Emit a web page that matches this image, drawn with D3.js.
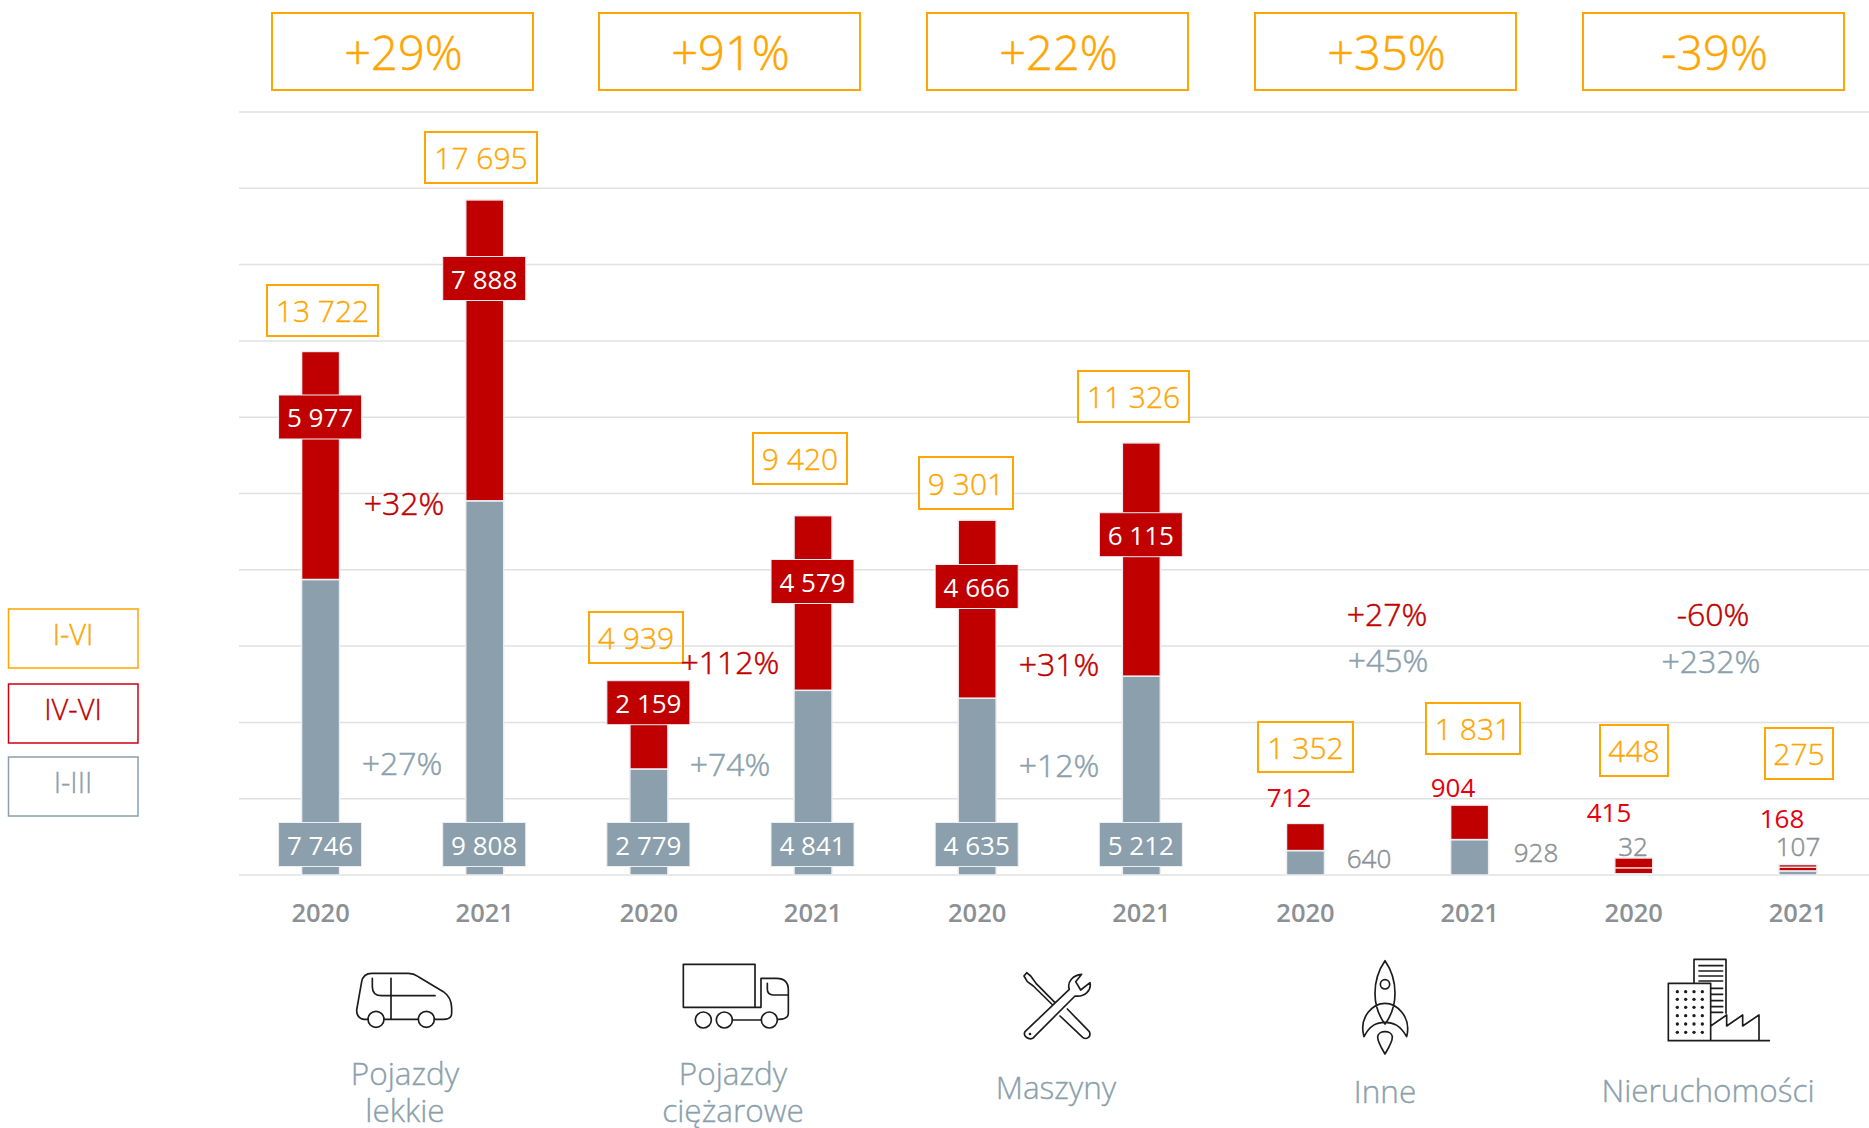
<!doctype html>
<html lang="pl">
<head>
  <meta charset="utf-8">
  <title>Pojazdy I-VI 2020/2021</title>
  <script src="https://d3js.org/d3.v7.min.js"></script>
  <style>
    body { margin: 0; background: #fff; }
    svg { display: block; }
    text { font-family: "Open Sans", sans-serif; font-weight: 300; text-anchor: middle; }
    .tick text { font-weight: 600; fill: #8b9095; font-size: 25.5px; }
    .grid line { stroke: #dfe0e2; stroke-width: 1.5; }
    .icon * { fill: none; stroke: #1c1c1c; stroke-width: 5; stroke-linejoin: round; stroke-linecap: round; }
    .icon .dot { fill: #1c1c1c; stroke: none; }
  </style>
</head>
<body>
  <div id="container"></div>

  <script>
    // data
    var years = ["2020", "2021"];
    var categories = [["Pojazdy", "lekkie"], ["Pojazdy", "ciężarowe"], ["Maszyny"], ["Inne"], ["Nieruchomości"]];
    var q1Values = [7746, 9808, 2779, 4841, 4635, 5212, 640, 928, 32, 107];   // I-III
    var q2Values = [5977, 7888, 2159, 4579, 4666, 6115, 712, 904, 415, 168];  // IV-VI
    var totals = [13722, 17695, 4939, 9420, 9301, 11326, 1352, 1831, 448, 275]; // I-VI
    var totalChange = ["+29%", "+91%", "+22%", "+35%", "-39%"];
    var q2Change = ["+32%", "+112%", "+31%", "+27%", "-60%"];
    var q1Change = ["+27%", "+74%", "+12%", "+45%", "+232%"];
    var legendLabels = ["I-VI", "IV-VI", "I-III"];
    var gridTicks = d3.range(0, 20001, 2000);

    var orange = "#fea500", red = "#c00000", brightRed = "#e6000f", blue = "#8b9fac", grey = "#8b9095";

    var width = 1869, height = 1128;
    var svg = d3.select("#container").append("svg").attr("width", width).attr("height", height);

    var n = totals.length;
    var x = d3.scaleBand().domain(d3.range(n)).range([238.5, 238.5 + 164.15 * n]);
    var y = d3.scaleLinear().domain([0, 20000]).range([875, 112]);
    var cx = function(i) { return x(i) + x.bandwidth() / 2; };
    var fmt = d3.formatLocale({ decimal: ",", thousands: " ", grouping: [3], currency: ["", ""] }).format(",");

    // thin text gets a hairline of its own colour, the original font is a bit denser
    function label(px, py, size, color, t, extra) {
      return svg.append("text").attr("x", px).attr("y", py).attr("dy", ".36em")
        .attr("font-size", size).attr("fill", color).attr("stroke", color).attr("stroke-width", extra || 0.35)
        .text(t);
    }

    // gridlines
    svg.append("g").attr("class", "grid").attr("transform", "translate(239,-0.5)")
      .call(d3.axisRight(y).tickValues(gridTicks).tickSize(width - 239).tickFormat(""))
      .call(function(g) { g.select(".domain").remove(); });

    // year labels
    svg.append("g").attr("transform", "translate(0,913)")
      .call(d3.axisBottom(x).tickSize(0).tickFormat(function(i) { return years[i % 2]; }))
      .call(function(g) { g.select(".domain").remove(); })
      .selectAll("text").attr("y", 0).attr("dy", ".35em");

    // bars
    var barW = 38;
    var bars = svg.append("g").attr("stroke", "#eceef2").attr("stroke-width", 1.5);
    bars.selectAll("rect.q1").data(q1Values).enter().append("rect").attr("class", "q1")
      .attr("x", function(d, i) { return cx(i) - barW / 2; })
      .attr("width", barW)
      .attr("y", function(d) { return y(d); })
      .attr("height", function(d) { return y(0) - y(d); })
      .attr("fill", blue);
    bars.selectAll("rect.q2").data(q2Values).enter().append("rect").attr("class", "q2")
      .attr("x", function(d, i) { return cx(i) - barW / 2; })
      .attr("width", barW)
      .attr("y", function(d, i) { return y(q1Values[i] + d); })
      .attr("height", function(d) { return y(0) - y(d); })
      .attr("fill", red);
    // hairlines inside the two thinnest bars, as in the original
    [[8, 205], [9, 222]].forEach(function(h) {
      svg.append("rect").attr("x", cx(h[0]) - barW / 2).attr("width", barW)
        .attr("y", y(h[1])).attr("height", 1.5).attr("fill", "#f3dcdc");
    });

    // filled value tags sitting on the bars
    var q2TagY = [417, 278.5, 702.7, 581.5, 586.5, 534.7];
    var tagW = 83, tagH = 44;
    function tag(i, yc, fill, value) {
      svg.append("rect").attr("x", cx(i) - tagW / 2 - 0.5).attr("y", yc - tagH / 2)
        .attr("width", tagW).attr("height", tagH).attr("fill", fill).attr("stroke", "#eceef2").attr("stroke-width", 1);
      svg.append("text").attr("x", cx(i) - 0.5).attr("y", yc + 1).attr("dy", ".36em")
        .attr("font-size", 26).attr("fill", "#fff").style("font-weight", 400).text(fmt(value));
    }
    q2TagY.forEach(function(yc, i) { tag(i, yc, red, q2Values[i]); });
    q2TagY.forEach(function(yc, i) { tag(i, 844.5, blue, q1Values[i]); });

    // outlined totals: x0, x1, y0, y1 of the boxes
    var totalBoxes = [[267, 378, 285, 336], [425, 537, 132, 183], [589, 683, 612, 663], [753, 847, 433, 484],
      [919, 1013, 457, 509], [1078, 1189, 371, 422], [1258, 1353, 722, 772], [1426, 1520, 703, 754],
      [1600, 1668, 725, 776], [1765, 1833, 728, 779]];
    totalBoxes.forEach(function(b, i) {
      svg.append("rect").attr("x", b[0]).attr("y", b[2]).attr("width", b[1] - b[0]).attr("height", b[3] - b[2])
        .attr("fill", i == 2 ? "none" : "#fff").attr("stroke", orange).attr("stroke-width", 2);
      label((b[0] + b[1]) / 2, (b[2] + b[3]) / 2 + 1, 30, orange, fmt(totals[i]));
    });

    // group change boxes on top
    var topBoxX = [272, 599, 927, 1255, 1583];
    topBoxX.forEach(function(bx, i) {
      svg.append("rect").attr("x", bx).attr("y", 13).attr("width", 261).attr("height", 77)
        .attr("fill", "none").attr("stroke", orange).attr("stroke-width", 2);
      label(bx + 131.5, 53, 47, orange, totalChange[i], 0.5);
    });

    // quarter change labels
    var q2ChangePos = [[404, 503], [730, 662], [1059, 664], [1387, 614], [1713, 614]];
    var q1ChangePos = [[402, 763], [730, 764], [1059, 765], [1388, 660], [1711, 661]];
    q2ChangePos.forEach(function(p, i) { label(p[0], p[1], 32, red, q2Change[i], 0.5); });
    q1ChangePos.forEach(function(p, i) { label(p[0], p[1], 32, blue, q1Change[i], 0.5); });

    // plain value labels of the small groups (indices 6-9)
    var q2LabelPos = [[1289, 798], [1453, 788], [1609, 813], [1782, 819]];
    var q1LabelPos = [[1369, 859], [1536, 853], [1633, 847], [1798, 847]];
    q2LabelPos.forEach(function(p, i) {
      svg.append("text").attr("x", p[0]).attr("y", p[1]).attr("dy", ".36em")
        .attr("font-size", 26).attr("fill", brightRed).style("font-weight", 400).text(fmt(q2Values[i + 6]));
    });
    q1LabelPos.forEach(function(p, i) { label(p[0], p[1], 26, grey, fmt(q1Values[i + 6]), 0.5); });

    // legend
    var legendColors = [orange, "#d00010", blue], legendText = [orange, red, blue], legendY = [609, 684, 757];
    legendLabels.forEach(function(t, i) {
      svg.append("rect").attr("x", 8.5).attr("y", legendY[i]).attr("width", 129.5).attr("height", 59)
        .attr("fill", "none").attr("stroke", legendColors[i]).attr("stroke-width", 1.5);
      label(73, legendY[i] + 26, 29, legendText[i], t);
    });

    // category names
    var catPos = [[405, 1074], [733, 1074], [1056, 1088], [1385, 1092], [1708, 1091]];
    categories.forEach(function(lines, i) {
      lines.forEach(function(t, j) {
        label(catPos[i][0], catPos[i][1] + j * 36.5, 31.5, blue, t);
      });
    });

    // icons, drawn in 3x units
    function icon(tx, ty) {
      return svg.append("g").attr("class", "icon").attr("transform", "translate(" + tx + "," + ty + ") scale(" + (1 / 3) + ")");
    }
    function circles(g, list, r) {
      list.forEach(function(c) { g.append("circle").attr("cx", c[0]).attr("cy", c[1]).attr("r", r); });
    }

    var van = icon(340, 950);
    van.append("path").attr("d", "M85,208 L72,208 Q50,205 50,180 L65,95 Q70,70 95,70 L205,70 Q220,70 235,80 L310,125 Q335,142 335,175 L335,190 Q335,208 310,208 L283,208 M133,208 L235,208 M153,85 L153,208 M97,85 L97,110 Q97,137 125,137 L285,137");
    circles(van, [[108, 208], [259, 208]], 24);

    var truck = icon(670, 950);
    truck.append("path").attr("d", "M40,43 L255,43 L255,172 L40,172 Z M255,172 L273,172 L273,85 L320,85 Q355,85 355,120 L355,190 Q355,208 325,208 M292,100 L292,118 Q292,135 310,135 L355,135 M187,210 L274,210");
    circles(truck, [[100, 210], [163, 210], [298, 210]], 24);

    var tools = icon(1010, 960);
    tools.append("path").attr("d", "M45,215 L178,88 C170,65 190,45 215,43 L197,65 L212,90 L240,68 C245,90 225,112 195,108 L68,235 C55,240 38,228 45,215 Z M42,48 L50,38 L62,48 L78,70 L135,128 M125,132 L70,78 L52,65 L42,48 M172,147 L238,215 C245,232 228,240 218,232 L150,168");
    tools.append("circle").attr("class", "dot").attr("cx", 60).attr("cy", 222).attr("r", 4);

    var rocket = icon(1340, 950);
    rocket.append("path").attr("d", "M135,32 C95,90 95,170 135,222 C175,170 175,90 135,32 Z M72,260 C55,200 100,160 135,160 C170,160 215,200 200,260 C180,225 160,217 135,217 C110,217 90,225 72,260 Z M135,312 C125,295 112,275 113,260 C115,240 155,240 157,260 C158,275 145,295 135,312 Z");
    circles(rocket, [[135, 103]], 14);

    var city = icon(1660, 950);
    city.append("path").attr("d", "M102,100 L102,28 L198,28 L198,190 M117,47 L188,47 M117,63 L188,63 M117,78 L188,78 M117,93 L188,93 M155,115 L188,115 M155,133 L188,133 M155,152 L188,152 M155,170 L188,170 M155,187 L188,187 M25,100 L152,100 L152,272 L25,272 Z M152,228 L200,195 L200,228 L248,195 L248,228 L297,195 L297,272 M152,272 L328,272");
    [52, 77, 102, 127].forEach(function(dx) {
      [125, 148, 172, 197, 222, 247].forEach(function(dy) {
        city.append("circle").attr("class", "dot").attr("cx", dx).attr("cy", dy).attr("r", 5);
      });
    });
  </script>
</body>
</html>
